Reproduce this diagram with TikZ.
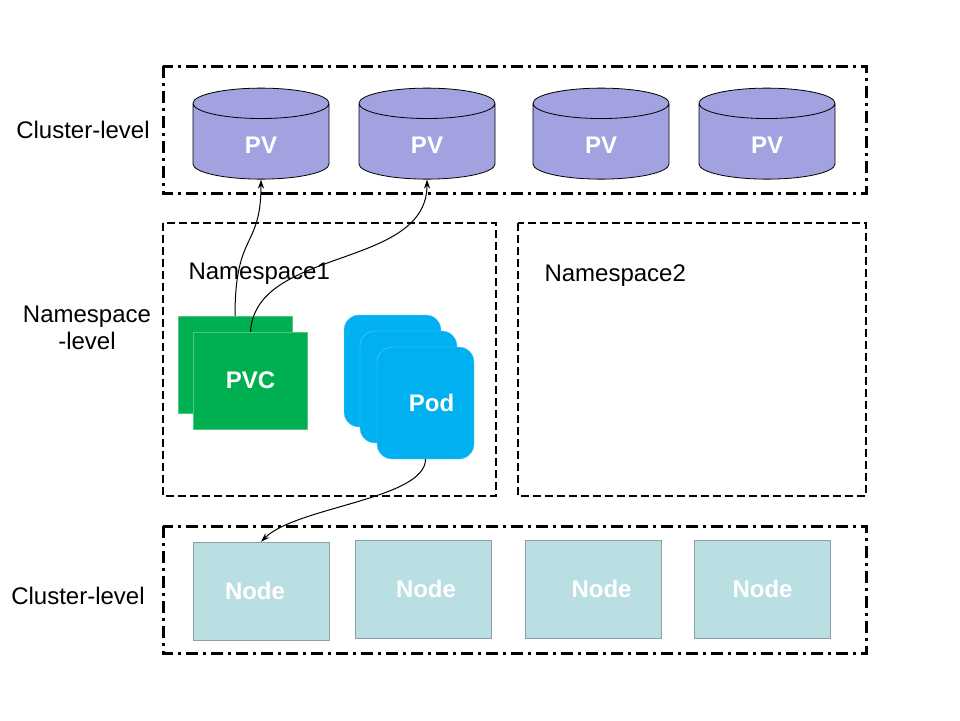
\documentclass[tikz,border=0pt]{standalone}
\usepackage{fontspec}
\setmainfont{Liberation Sans}
\usepackage{tikz}
\usetikzlibrary{shapes,arrows.meta,positioning}
\definecolor{pvpurple}{RGB}{162, 162, 224}
\definecolor{pvcgreen}{RGB}{0, 176, 80}
\definecolor{podblue}{RGB}{0, 176, 240}
\definecolor{hostteal}{RGB}{185, 223, 227}
\definecolor{hostgray}{RGB}{138, 160, 166}

\begin{document}
\begin{tikzpicture}[
    x=1pt, y=-1pt,
    every node/.style={align=center, font=\fontsize{24}{27}\selectfont},
    pv/.style={cylinder, shape border rotate=90, aspect=1.9, inner sep=8pt, draw=black, thick, fill=pvpurple, minimum width=136pt, minimum height=91pt},
    pvtext/.style={text=white, font=\fontsize{24}{27}\selectfont\bfseries},
    pvc/.style={rectangle, draw=pvcgreen!70!white, fill=pvcgreen, minimum width=114pt, minimum height=97pt, text=white, font=\fontsize{24}{27}\selectfont\bfseries},
    pod/.style={rectangle, rounded corners=15pt, draw=podblue!60!white, fill=podblue, minimum width=97pt, minimum height=112pt, text=white, font=\fontsize{24}{27}\selectfont\bfseries},
    host/.style={rectangle, draw=hostgray, fill=hostteal, minimum width=136pt, minimum height=98pt, text=white, font=\fontsize{24}{27}\selectfont\bfseries},
    clusterbox/.style={line width=3pt, dash pattern=on 12pt off 5pt on 3pt off 5pt},
    nsbox/.style={line width=2.5pt, dash pattern=on 8pt off 4pt},
    arrow/.style={line width=1pt, -{Stealth[length=9pt,width=6pt]}}
]
\useasboundingbox (0,0) rectangle (960,720);

% Levels
\draw[clusterbox] (163,66) rectangle (866,193);
\draw[nsbox] (163,223) rectangle (496,496);
\draw[nsbox] (518,223) rectangle (866,496);
\draw[clusterbox] (163,526) rectangle (866,653);

\node (toplabel) at (83,130) {Cluster-level};
\node (nslabel) at (87,328) {Namespace\\-level};
\node (bottomlabel) at (78,596) {Cluster-level};
\node[anchor=west] (ns1) at (185,274) {Namespace1};
\node[anchor=west] (ns2) at (541,276) {Namespace2};

% Persistent volumes
\node[pv, label={[pvtext]center:PV}] (pv1) at (261,145) {};
\node[pv, label={[pvtext]center:PV}] (pv2) at (427,145) {};
\node[pv, label={[pvtext]center:PV}] (pv3) at (601,145) {};
\node[pv, label={[pvtext]center:PV}] (pv4) at (767,145) {};

% Claims and pods
\node[pvc] (pvcback) at (235,364.5) {};
\node[pvc] (pvcfront) at (250.5,380.5) {PVC};
\node[pod] (podback) at (392.5,371) {};
\node[pod] (podmid) at (408.5,387) {};
\node[pod] (podfront) at (425.5,403) {\hspace*{12pt}Pod};

% Nodes
\node[host] (host1) at (261,591) {Node\hspace*{12pt}};
\node[host] (host2) at (423.5,589) {\hspace*{5pt}Node};
\node[host] (host3) at (593.5,589) {\hspace*{16pt}Node};
\node[host] (host4) at (762.5,589) {Node};

% Connections
\draw[arrow] (pvcback.north) .. controls +(0,-85) and +(0,70) .. (pv1.south);
\draw[arrow] (pvcfront.north) .. controls +(5,-85) and +(0,90) .. (pv2.south);
\draw[arrow] (podfront.south) .. controls +(0,40) and +(35,-35) .. (host1.north);

\end{tikzpicture}
\end{document}
